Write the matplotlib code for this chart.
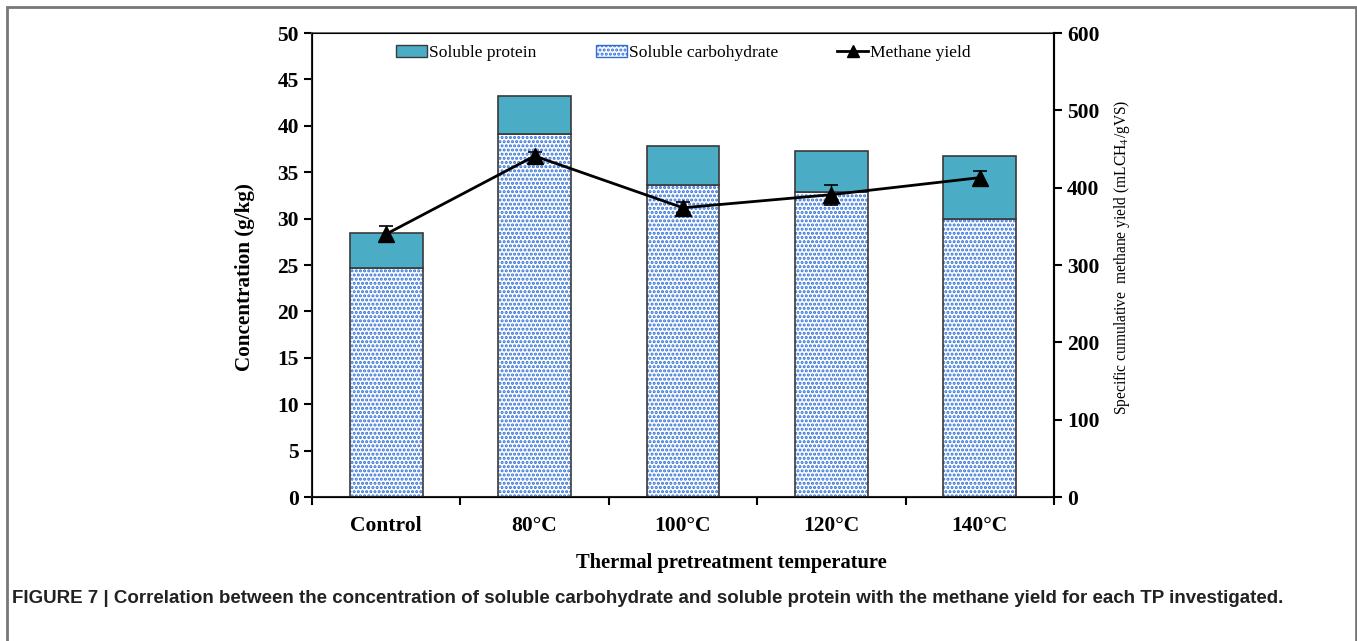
import matplotlib.pyplot as plt
from matplotlib.patches import Patch, Rectangle
from matplotlib.lines import Line2D

# soluble fractions (g/kg) and methane yield (mL CH4/gVS)
categories = ['Control', '80°C', '100°C', '120°C', '140°C']
carbohydrate = [24.7, 39.1, 33.6, 32.9, 30.0]
protein = [3.7, 4.1, 4.2, 4.4, 6.8]
methane = [340, 441, 374, 391, 413]
methane_err = [10, 5, 7, 13, 9]

plt.rcParams['font.family'] = ['Liberation Serif', 'DejaVu Serif']
plt.rcParams['mathtext.fontset'] = 'stix'
plt.rcParams['hatch.linewidth'] = 1.5

teal = '#4BACC6'
dot_blue = '#2F6FD6'
edge = '#3a3a3a'

fig = plt.figure(figsize=(13.57, 6.41), dpi=100)
ax = fig.add_axes([0.2299, 0.2246, 0.5468, 0.7239])

x = range(len(categories))
width = 0.49
# dotted carbohydrate part, then an outline on top so the hatch stays blue
ax.bar(x, carbohydrate, width, color='white', edgecolor=dot_blue, hatch='....', linewidth=0)
ax.bar(x, carbohydrate, width, fill=False, edgecolor=edge, linewidth=1.2)
ax.bar(x, protein, width, bottom=carbohydrate, color=teal, edgecolor=edge, linewidth=1.2)

ax.set_xlim(-0.5, len(categories) - 0.5)
ax.set_ylim(0, 50)
ax.set_yticks(range(0, 51, 5))
ax.set_xticks(x)
ax.set_xticklabels(categories, fontsize=15.5, fontweight='bold')
ax.set_xticks([i + 0.5 for i in range(-1, len(categories))], minor=True)
ax.tick_params(axis='x', which='major', length=0, pad=14)
ax.tick_params(axis='x', which='minor', length=6, width=1.5, direction='out')
ax.tick_params(axis='y', length=6, width=1.5, direction='out', labelsize=15.5)
for lab in ax.get_yticklabels():
    lab.set_fontweight('bold')
for s in ax.spines.values():
    s.set_linewidth(1.5)
    s.set_color('#222222')
ax.spines['top'].set_color('#555555')
ax.spines['top'].set_linewidth(1.2)

ax.set_ylabel('Concentration (g/kg)', fontsize=15.2, fontweight='bold')
ax.yaxis.set_label_coords(-0.077, 0.474)
ax.set_xlabel('Thermal pretreatment temperature', fontsize=14.8, fontweight='bold')
ax.xaxis.set_label_coords(0.565, -0.121)

ax2 = ax.twinx()
ax2.set_ylim(0, 600)
ax2.set_yticks(range(0, 601, 100))
ax2.tick_params(axis='y', length=6, width=1.5, direction='out', labelsize=15.5)
for lab in ax2.get_yticklabels():
    lab.set_fontweight('bold')
ax2.spines['right'].set_linewidth(1.5)
ax2.errorbar(x, methane, yerr=methane_err, color='black', linewidth=2,
             marker='^', markersize=11, capsize=5, elinewidth=1, capthick=1.2)
ax2.set_ylabel('Specific cumulative  methane yield (mLCH$_4$/gVS)', fontsize=11.2)
ax2.yaxis.set_label_coords(1.0786, 0.517)

handles = [
    Patch(facecolor=teal, edgecolor=edge, label='Soluble protein'),
    Patch(facecolor='white', edgecolor=dot_blue, hatch='....', label='Soluble carbohydrate'),
    Line2D([], [], color='black', linewidth=2, marker='^', markersize=9, label='Methane yield'),
]
fig.legend(handles=handles, loc='center', bbox_to_anchor=(0.5037, 0.917), ncol=3,
           frameon=False, fontsize=12.6, handlelength=1.77, handleheight=0.7,
           handletextpad=0.1, columnspacing=3.4)

# outer frame of the figure panel
fig.patches.append(Rectangle((0.0055, -0.01), 0.9935, 0.999, transform=fig.transFigure,
                             fill=False, edgecolor='#777777', linewidth=2))

fig.text(0.009, 0.067, 'FIGURE 7 | Correlation between the concentration of soluble carbohydrate '
         'and soluble protein with the methane yield for each TP investigated.',
         family=['Liberation Sans', 'DejaVu Sans'],
         fontsize=13.47, fontweight='bold', color='#222222', va='center')

fig.savefig('out.png', dpi=100)
